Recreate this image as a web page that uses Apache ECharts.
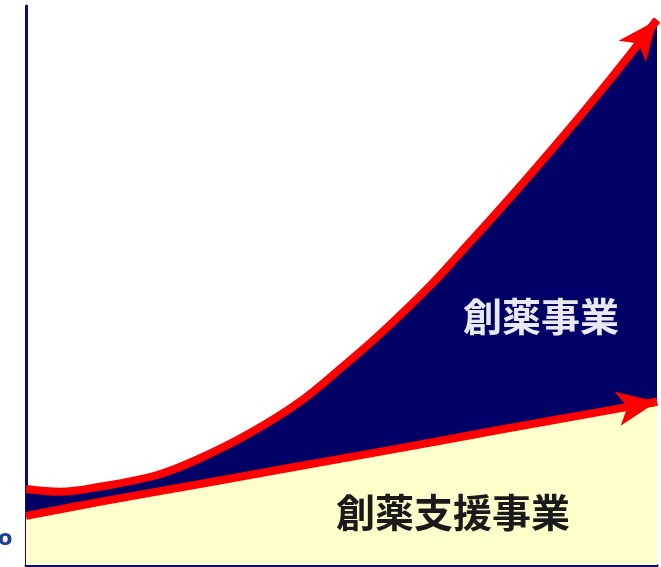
<!DOCTYPE html>
<html><head><meta charset="utf-8">
<script src="https://cdn.jsdelivr.net/npm/echarts@6/dist/echarts.min.js"></script>
<style>html,body{margin:0;padding:0;background:#fff;overflow:hidden}#c{width:661px;height:567px}</style>
</head><body><div id="c"></div>
<script>
// upper curve (創薬事業 total), x and y in arbitrary 0-100 units
const upperX = [0, 5.4, 11.7, 20.8, 27.6, 35.5, 43.4, 49.8, 56.1, 64.0, 68.8, 76.7, 84.6, 92.6, 100];
const upperY = [13.6, 13.1, 14.0, 16.1, 19.1, 23.6, 29.2, 35.1, 41.3, 49.9, 55.8, 65.7, 76.0, 86.9, 97.5];
// lower line (創薬支援事業)
const lowerX = [0, 11.7, 27.6, 43.4, 59.3, 75.1, 91.0, 100];
const lowerY = [8.8, 11.3, 14.5, 17.7, 20.9, 24.2, 27.4, 29.2];
const labelDrug = '創薬事業';
const labelSupport = '創薬支援事業';
const stray = 'o';

const pairs = (xs, ys) => xs.map((x, i) => [x, ys[i]]);
const arrowOf = (xs, ys) => {
  const n = xs.length;
  return {
    silent: true, animation: false,
    symbol: ['none', 'arrow'], symbolSize: [26, 40],
    label: {show: false},
    lineStyle: {color: '#ff0000', width: 8, type: 'solid', opacity: 1},
    itemStyle: {color: '#ff0000'},
    data: [[{coord: [xs[n - 2] + (xs[n - 1] - xs[n - 2]) * 0.6, ys[n - 2] + (ys[n - 1] - ys[n - 2]) * 0.6]}, {coord: [xs[n - 1], ys[n - 1]]}]]
  };
};

const chart = echarts.init(document.getElementById('c'), null, {renderer: 'canvas'});
chart.setOption({
  animation: false,
  backgroundColor: '#ffffff',
  grid: {left: 26, right: 4, top: 6, bottom: 2, containLabel: false},
  xAxis: {type: 'value', min: 0, max: 100,
    axisLine: {show: true, onZero: false, lineStyle: {color: '#0b0b7a', width: 3}},
    axisTick: {show: false}, axisLabel: {show: false}, splitLine: {show: false}},
  yAxis: {type: 'value', min: 0, max: 100,
    axisLine: {show: true, onZero: false, lineStyle: {color: '#0b0b7a', width: 3}},
    axisTick: {show: false}, axisLabel: {show: false}, splitLine: {show: false}},
  series: [
    {type: 'line', data: pairs(upperX, upperY), smooth: 0.35, symbol: 'none', clip: false, z: 2,
     lineStyle: {color: '#ff0000', width: 8}, areaStyle: {color: '#000066', opacity: 1},
     markLine: arrowOf(upperX, upperY)},
    {type: 'line', data: pairs(lowerX, lowerY), smooth: 0.35, symbol: 'none', clip: false, z: 3,
     lineStyle: {color: '#ff0000', width: 8}, areaStyle: {color: '#ffffcc', opacity: 1},
     markLine: arrowOf(lowerX, lowerY)}
  ],
  graphic: [
    {type: 'text', left: 463, top: 297, z: 10,
     style: {text: labelDrug, fill: '#e8e8f0', font: 'bold 39px "Noto Sans CJK JP"'}},
    {type: 'text', left: 336, top: 493, z: 10,
     style: {text: labelSupport, fill: '#1a1a1a', font: 'bold 39px "Noto Sans CJK JP"'}},
    {type: 'text', left: -2, top: 529, z: 10,
     style: {text: stray, fill: '#1f3d99', font: 'bold 21px "DejaVu Sans"'}}
  ]
});
</script>
</body></html>
